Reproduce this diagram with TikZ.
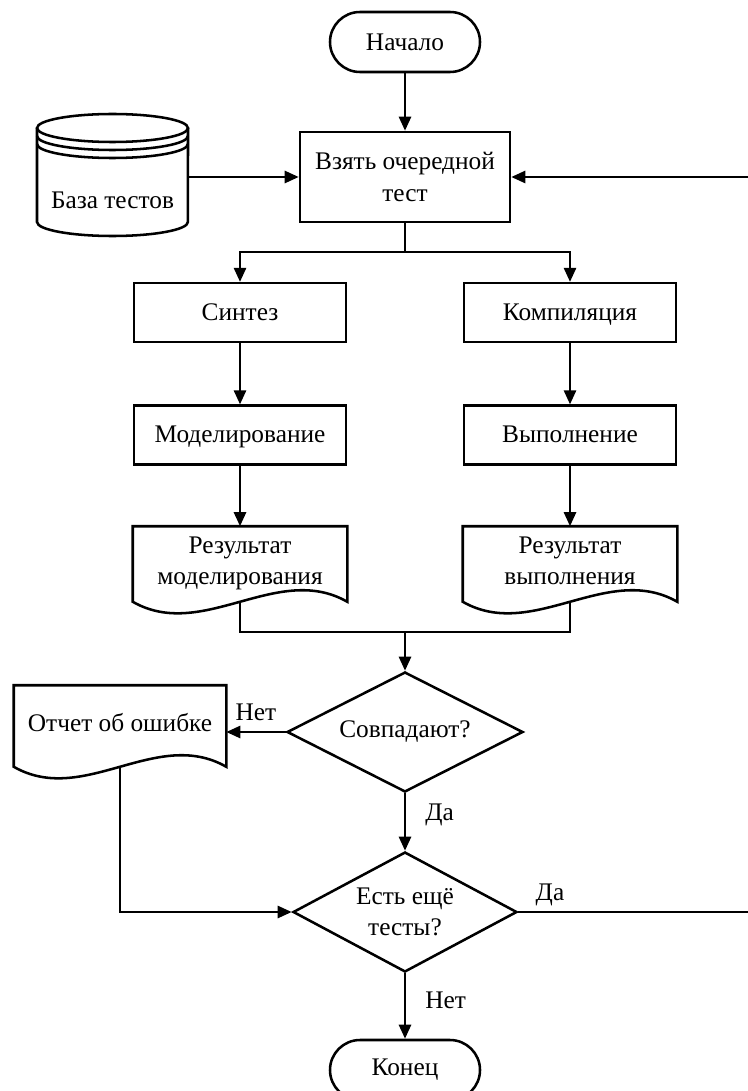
\documentclass[tikz,border=0pt]{standalone}
\usepackage{fontspec}
\setmainfont{Liberation Serif}
\usetikzlibrary{arrows.meta, positioning, shapes.geometric}

% document symbol: box with a wavy bottom edge
\newcommand{\docoutline}[1]{%
  \draw (#1.south west) -- (#1.north west) -- (#1.north east) -- (#1.south east)
    .. controls +(-70,-40) and +(70,40) .. (#1.south west) -- cycle;}

\begin{document}
\begin{tikzpicture}[x=0.75pt, y=-0.75pt, line width=1.9pt,
    >={Triangle[length=10.5pt, width=9pt]},
    every node/.style={font=\fontsize{19}{23.5}\selectfont},
    term/.style={draw, rounded corners=22.5pt, minimum width=112.5pt,
                 minimum height=45pt},
    proc/.style={draw, minimum width=159pt, minimum height=44pt,
                 align=center},
    oneline/.style={text height=15.5pt, text depth=3.8pt},
    doc/.style={minimum width=159pt, minimum height=54.75pt, align=center,
                text depth=5pt},
    decision/.style={draw, diamond, aspect=2, inner sep=0pt, align=center}]
  \useasboundingbox (0,0) rectangle (748,1091);
  % Start, test base
  \node[term] (start) at (405,42) {Начало};
  \node[proc, minimum width=157.5pt, minimum height=67.5pt] (take) at (405,177)
    {Взять очередной\\тест};
  \node[minimum width=113.25pt] (db) at (112.5,200) {База тестов};
  \begin{scope}[shift={(db.center)}]
    \draw (0,-72) ellipse [x radius=56.6pt, y radius=10.5pt];
    \draw (-75.5,-64) arc [start angle=180, end angle=360,
                           x radius=56.6pt, y radius=10.5pt];
    \draw (-75.5,-56) arc [start angle=180, end angle=360,
                           x radius=56.6pt, y radius=10.5pt];
    \draw (-75.5,-72) -- (-75.5,22) arc [start angle=180, end angle=360,
                           x radius=56.6pt, y radius=10.5pt] -- (75.5,-72);
  \end{scope}
  % Two branches
  \node[proc, oneline] (synth) at (240,312.5) {Синтез};
  \node[proc, oneline] (comp) at (570,312.5) {Компиляция};
  \node[proc, oneline] (model) at (240,435) {Моделирование};
  \node[proc, oneline] (exec) at (570,435) {Выполнение};
  \node[doc] (rmod) at (240,564) {Результат\\моделирования};
  \node[doc] (rexe) at (570,564) {Результат\\выполнения};
  \docoutline{rmod}
  \docoutline{rexe}
  % Checks and end
  \node[decision, minimum width=177pt, minimum height=90pt] (check) at (405,732)
    {Совпадают?};
  \node[doc, minimum width=157.5pt, minimum height=59.25pt] (err) at (120,726)
    {Отчет об ошибке};
  \docoutline{err}
  \node[decision, minimum width=168pt, minimum height=90pt] (more) at (405,912)
    {Есть ещё\\тесты?};
  \node[term] (stop) at (405,1070) {Конец};
  % Connectors
  \coordinate (fork) at (405,252);
  \coordinate (merge) at (405,632);
  \coordinate (back) at (753,177);
  \draw[->] (start) -- (take);
  \draw[->] (db.east |- take.west) -- (take.west);
  \draw (take) -- (fork);
  \draw[->] (fork) -| (synth);
  \draw[->] (fork) -| (comp);
  \draw[->] (synth) -- (model);
  \draw[->] (comp) -- (exec);
  \draw[->] (model) -- (rmod);
  \draw[->] (exec) -- (rexe);
  \draw (rmod.south) |- (merge) -| (rexe.south);
  \draw[->] (merge) -- (check);
  \draw[->] (check.west) -- node[above=4pt] {Нет} (check.west -| err.east);
  \draw[->] (check) -- node[right=11pt, pos=0.38] {Да} (more);
  \draw[->] (err.south) |- (more.west);
  \draw[->] (more.east) -- node[pos=0.05, anchor=south west] {Да}
    (more.east -| back) -- (back) -- (take.east);
  \draw[->] (more) -- node[right=11pt, pos=0.41] {Нет} (stop);
\end{tikzpicture}
\end{document}
